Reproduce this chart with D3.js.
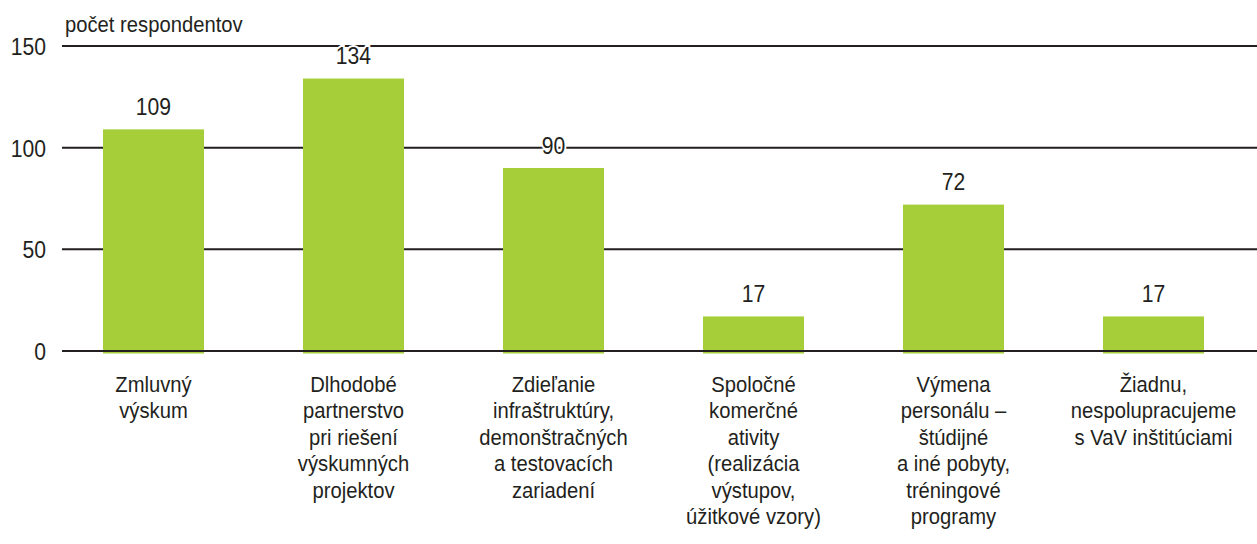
<!DOCTYPE html>
<html><head><meta charset="utf-8">
<script src="https://cdn.jsdelivr.net/npm/d3@7"></script>
<style>
html,body{margin:0;padding:0;background:#fff;}
svg text{font-family:"Liberation Sans",Arial,sans-serif;fill:#231f20;}
</style></head><body>
<svg id="c" width="1257" height="544"></svg>
<script>
const categories = [
  ["Zmluvný","výskum"],
  ["Dlhodobé","partnerstvo","pri riešení","výskumných","projektov"],
  ["Zdieľanie","infraštruktúry,","demonštračných","a testovacích","zariadení"],
  ["Spoločné","komerčné","ativity","(realizácia","výstupov,","úžitkové vzory)"],
  ["Výmena","personálu –","štúdijné","a iné pobyty,","tréningové","programy"],
  ["Žiadnu,","nespolupracujeme","s VaV inštitúciami"]
];
const values = [109, 134, 90, 17, 72, 17];
const yTicks = [0, 50, 100, 150];
const yTitle = "počet respondentov";

const SX = 0.92; // horizontal condensing
const svg = d3.select("#c");
const x = d3.scaleBand().domain(d3.range(categories.length)).range([53.5, 1253.5]).paddingInner(0.495).paddingOuter(0.2475);
const y = d3.scaleLinear().domain([0, 150]).range([351, 46]);

function ctext(parent, px, py, size, anchor) {
  return parent.append("g").attr("transform", `translate(${px},${py}) scale(${SX},1)`)
    .append("text").attr("text-anchor", anchor).attr("font-size", size);
}

// gridlines (except baseline)
svg.append("g").selectAll("line").data(yTicks.filter(d => d !== 0)).join("line")
  .attr("x1", 62).attr("x2", 1257).attr("y1", d => y(d)).attr("y2", d => y(d))
  .attr("stroke", "#231f20").attr("stroke-width", 2);

// bars
svg.append("g").selectAll("rect").data(values).join("rect")
  .attr("x", (d, i) => x(i)).attr("width", x.bandwidth())
  .attr("y", d => y(d)).attr("height", d => y(0) - y(d) + 2.5)
  .attr("fill", "#a6ce39");

// baseline
svg.append("line").attr("x1", 62).attr("x2", 1257).attr("y1", y(0)).attr("y2", y(0))
  .attr("stroke", "#231f20").attr("stroke-width", 2);

// y tick labels
const yg = svg.append("g");
yTicks.forEach(t => ctext(yg, 46, y(t) + 9, 23, "end").text(t));

ctext(svg, 65, 32, 22, "start").text(yTitle);

// value labels
const vg = svg.append("g");
values.forEach((v, i) => {
  ctext(vg, x(i) + x.bandwidth() / 2, y(v) - 14.5, 23, "middle")
    .attr("stroke", "#fff").attr("stroke-width", 4).attr("paint-order", "stroke")
    .text(v);
});

// category labels
const cg = svg.append("g");
categories.forEach((lines, i) => {
  const t = ctext(cg, x(i) + x.bandwidth() / 2, 392, 22, "middle");
  lines.forEach((l, j) => t.append("tspan").attr("x", 0).attr("y", j * 26.4).text(l));
});
</script>
</body></html>
